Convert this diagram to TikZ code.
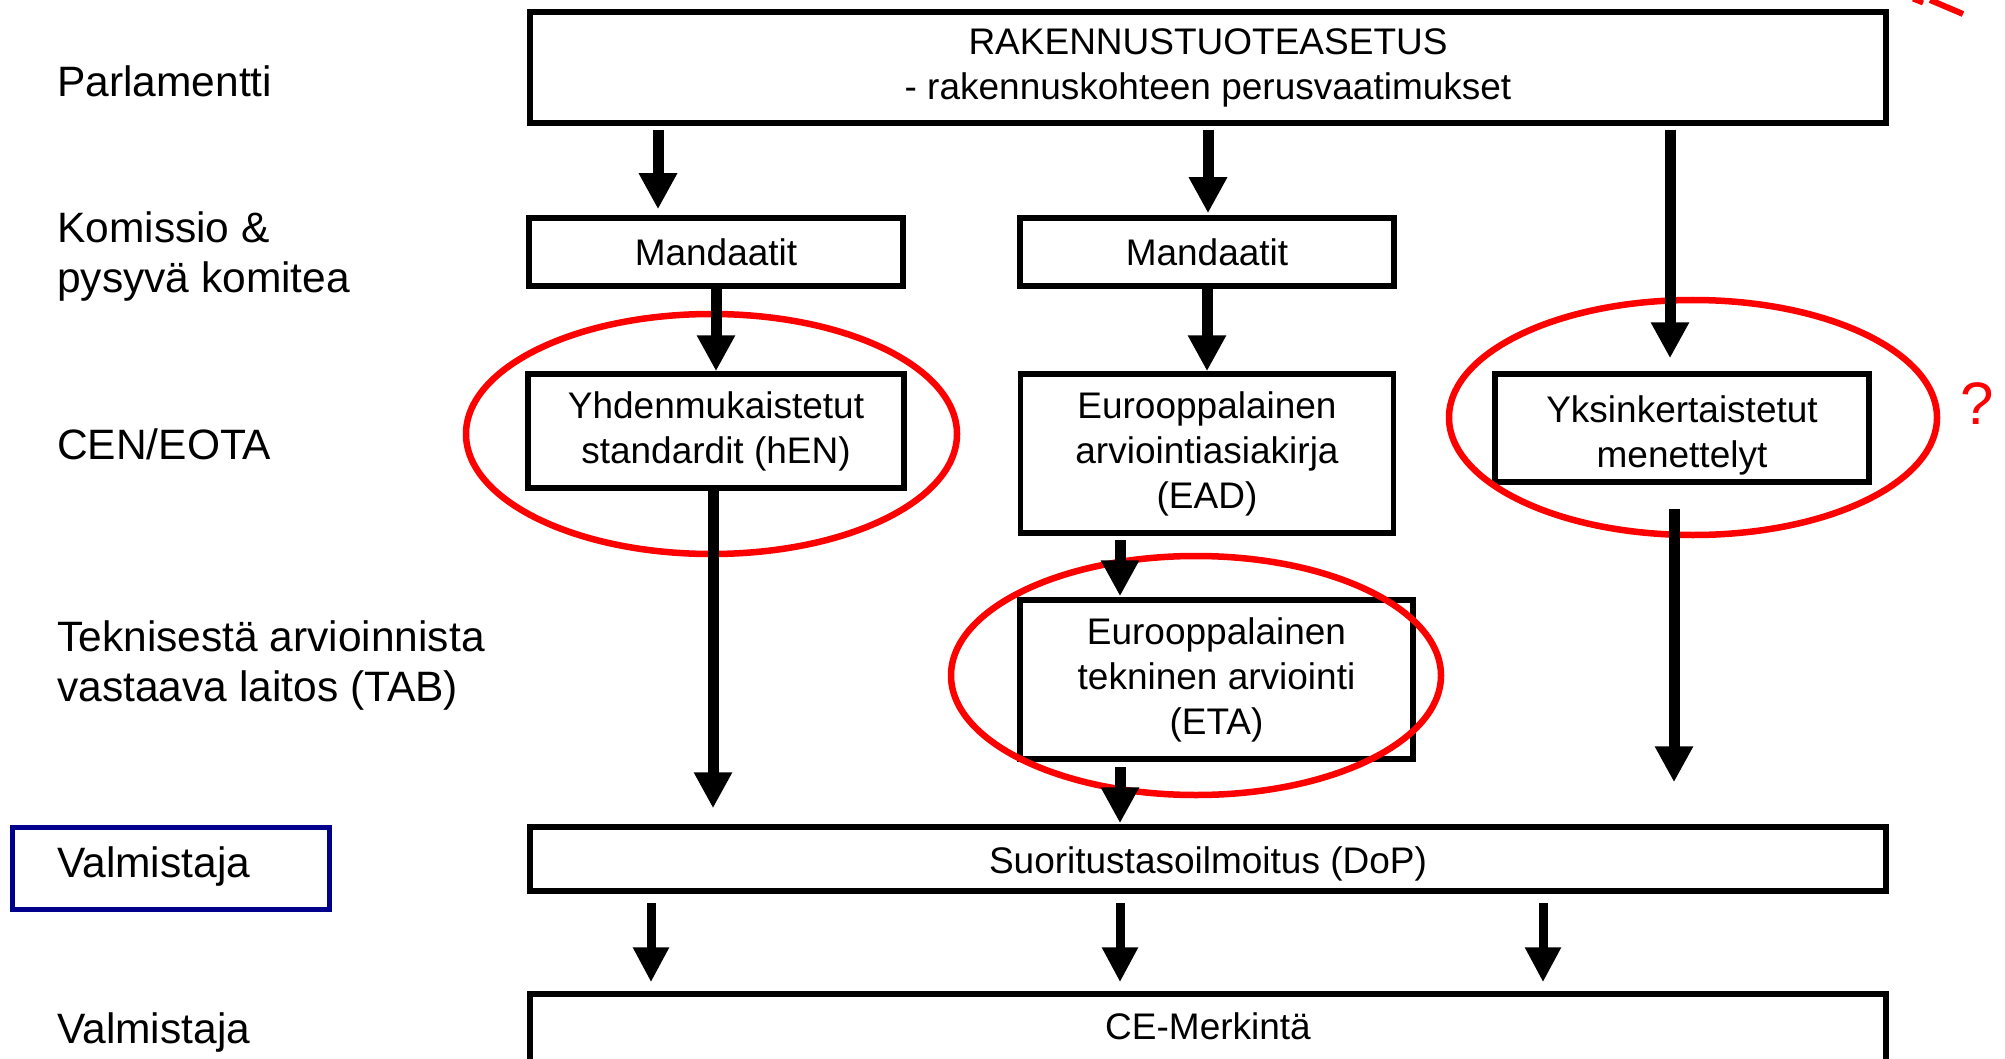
\documentclass[tikz,border=0pt]{standalone}
\usepackage{fontspec}
\setmainfont{Liberation Sans}
\usetikzlibrary{arrows.meta}
\definecolor{navyb}{RGB}{0,0,140}
\definecolor{redc}{RGB}{255,0,0}
\begin{document}
\begin{tikzpicture}[x=1pt,y=-1pt,
  box/.style={draw, line width=5.5pt, inner sep=0pt, align=center, font=\fontsize{37}{45}\selectfont},
  lbl/.style={anchor=base west, inner sep=0pt, align=left, font=\fontsize{42.5}{50}\selectfont},
  arr/.style={line width=11pt, -{Triangle[width=36pt,length=36pt]}},
  arrs/.style={line width=9pt, -{Triangle[width=34pt,length=35pt]}},
  ring/.style={draw=redc, line width=6.5pt}]
\useasboundingbox (0,0) rectangle (2005,1059);
\clip (0,0) rectangle (2005,1059);

% left labels
\node[lbl] (l1) at (57,97) {Parlamentti};
\node[lbl] (l2) at (57,293) {Komissio \&\\pysyvä komitea};
\node[lbl] (l3) at (57,459) {CEN/EOTA};
\node[lbl] (l4) at (57,701) {Teknisestä arvioinnista\\vastaava laitos (TAB)};
\node[lbl] (l5) at (57,877) {Valmistaja};
\node[lbl] (l6) at (57,1043) {Valmistaja};
\node[draw=navyb, line width=5pt, minimum width=317pt, minimum height=82pt, inner sep=0pt] (vbox) at (171,868.5) {};

% boxes
\node[box, minimum width=1356pt, minimum height=111pt] (top) at (1208,67.5) {RAKENNUSTUOTEASETUS\\- rakennuskohteen perusvaatimukset};
\node[box, minimum width=374pt, minimum height=68pt] (m1) at (716,252) {Mandaatit};
\node[box, minimum width=374pt, minimum height=68pt] (m2) at (1207,252) {Mandaatit};
\node[box, minimum width=376pt, minimum height=114pt] (hen) at (716,431) {Yhdenmukaistetut\\standardit (hEN)};
\node[box, minimum width=373pt, minimum height=159pt] (ead) at (1207,453.5) {Eurooppalainen\\arviointiasiakirja\\(EAD)};
\node[box, minimum width=374pt, minimum height=108pt] (yk) at (1682,428) {\rule{0pt}{42pt}Yksinkertaistetut\\menettelyt};
\node[box, minimum width=393pt, minimum height=159pt] (eta) at (1216.5,679.5) {Eurooppalainen\\tekninen arviointi\\(ETA)};
\node[box, minimum width=1356pt, minimum height=64pt, text height=30pt, text depth=2pt] (dop) at (1208,859) {Suoritustasoilmoitus (DoP)};
\node[box, minimum width=1356pt, minimum height=72pt, text depth=8pt] (ce) at (1208,1030) {CE-Merkintä};

% red annotations
\draw[ring] (711.5,434) ellipse [x radius=245.5pt, y radius=120pt];
\draw[ring] (1196,675.5) ellipse [x radius=245pt, y radius=119.5pt];
\draw[ring] (1693,417.5) ellipse [x radius=244pt, y radius=117.5pt];
\node[text=redc, inner sep=0pt, font=\fontsize{60}{70}\selectfont] (q) at (1977,404) {?};
\draw[redc, line width=5pt] (1913,-1) -- (1923,3);
\draw[redc, line width=6pt] (1930,0) -- (1963,14);

% arrows
\draw[arr] ([xshift=-550pt,yshift=-4pt]top.south) -- ([xshift=-58pt,yshift=6pt]m1.north);
\draw[arr] ([yshift=-4pt]top.south) -- ([xshift=1pt,yshift=2pt]m2.north);
\draw[arr] ([xshift=462pt,yshift=-4pt]top.south) -- ([xshift=-12pt,yshift=13pt]yk.north);
\draw[arr] (m1.south) -- (hen.north);
\draw[arr] (m2.south) -- (ead.north);
\draw[arr] ([xshift=-3pt]hen.south) -- ([xshift=-495pt,yshift=16pt]dop.north);
\draw[arr] ([xshift=-87pt,yshift=-4pt]ead.south) -- ([xshift=-96.5pt,yshift=1pt]eta.north);
\draw[arr] ([xshift=-8pt,yshift=-24pt]yk.south) -- ([xshift=466pt,yshift=42pt]dop.north);
\draw[arr] ([xshift=-96.5pt,yshift=-5pt]eta.south) -- ([xshift=-88pt,yshift=1pt]dop.north);
\draw[arrs] ([xshift=-557pt,yshift=-9pt]dop.south) -- ([xshift=-557pt,yshift=9pt]ce.north);
\draw[arrs] ([xshift=-88pt,yshift=-9pt]dop.south) -- ([xshift=-88pt,yshift=9pt]ce.north);
\draw[arrs] ([xshift=335pt,yshift=-9pt]dop.south) -- ([xshift=335pt,yshift=9pt]ce.north);
\end{tikzpicture}
\end{document}
